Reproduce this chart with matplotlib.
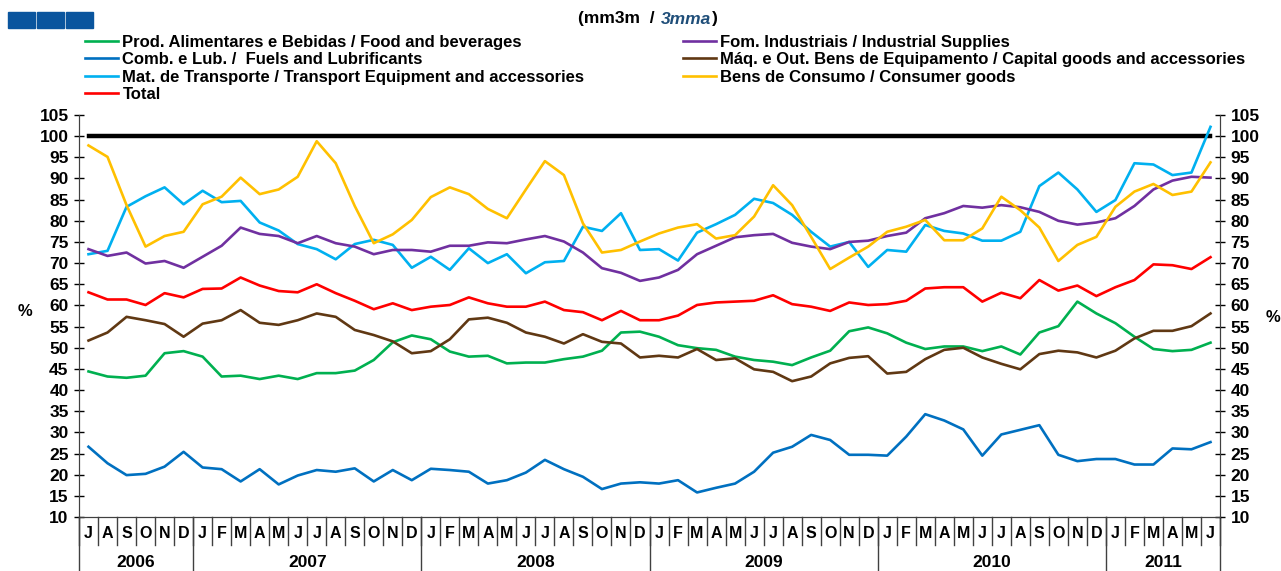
import numpy as np
import matplotlib
matplotlib.use("Agg")
import matplotlib.pyplot as plt
from matplotlib.patches import Rectangle

plt.rcParams['font.family'] = ['Liberation Sans', 'DejaVu Sans']

# monthly data, Jul 2006 - Jun 2011 (3 month moving average, %)
food = [44.4, 43.2, 42.9, 43.4, 48.7, 49.2,
        47.9, 43.2, 43.4, 42.6, 43.4, 42.6, 44.0, 44.0, 44.6, 47.1, 51.3, 52.9,
        52.0, 49.1, 47.9, 48.1, 46.3, 46.5, 46.5, 47.3, 47.9, 49.3, 53.6, 53.8,
        52.6, 50.6, 49.9, 49.5, 47.9, 47.1, 46.7, 45.9, 47.7, 49.3, 53.9, 54.8,
        53.4, 51.2, 49.7, 50.3, 50.3, 49.2, 50.3, 48.4, 53.6, 55.1, 60.9, 58.1,
        55.8, 52.6, 49.7, 49.2, 49.5, 51.2]
fuels = [26.6, 22.7, 19.9, 20.2, 21.9, 25.4,
         21.7, 21.3, 18.4, 21.3, 17.7, 19.8, 21.1, 20.7, 21.5, 18.4, 21.1, 18.7,
         21.4, 21.1, 20.7, 17.9, 18.7, 20.5, 23.5, 21.3, 19.5, 16.6, 17.9, 18.2,
         17.9, 18.7, 15.8, 16.9, 17.9, 20.7, 25.2, 26.6, 29.4, 28.2, 24.7, 24.7,
         24.5, 29.0, 34.3, 32.8, 30.7, 24.5, 29.5, 30.6, 31.7, 24.7, 23.2, 23.7,
         23.7, 22.4, 22.4, 26.2, 26.0, 27.7]
transport = [72.1, 72.9, 83.3, 85.8, 87.9, 83.9,
             87.1, 84.4, 84.7, 79.6, 77.7, 74.5, 73.3, 70.9, 74.5, 75.5, 74.3, 68.9,
             71.5, 68.4, 73.5, 70.0, 72.1, 67.6, 70.2, 70.5, 78.6, 77.6, 81.8, 73.1,
             73.3, 70.6, 77.2, 79.2, 81.4, 85.2, 84.2, 81.4, 77.4, 73.9, 75.0, 69.1,
             73.1, 72.7, 79.0, 77.6, 77.0, 75.3, 75.3, 77.4, 88.2, 91.4, 87.4, 82.1,
             84.9, 93.6, 93.3, 90.8, 91.4, 102.2]
total = [63.1, 61.4, 61.4, 60.1, 62.9, 61.9,
         63.9, 64.0, 66.6, 64.7, 63.4, 63.1, 65.0, 62.9, 61.1, 59.1, 60.5, 58.9,
         59.7, 60.1, 61.9, 60.5, 59.7, 59.7, 60.9, 58.9, 58.4, 56.5, 58.7, 56.5,
         56.5, 57.6, 60.1, 60.7, 60.9, 61.1, 62.4, 60.3, 59.7, 58.7, 60.7, 60.1,
         60.3, 61.1, 64.0, 64.3, 64.3, 60.9, 63.0, 61.7, 66.0, 63.5, 64.7, 62.2,
         64.3, 66.0, 69.7, 69.5, 68.6, 71.4]
industrial = [73.3, 71.7, 72.5, 69.9, 70.5, 68.9,
              71.5, 74.1, 78.4, 76.9, 76.4, 74.7, 76.4, 74.7, 73.9, 72.1, 73.1, 73.1,
              72.7, 74.1, 74.1, 74.9, 74.7, 75.6, 76.4, 75.1, 72.5, 68.8, 67.7, 65.8,
              66.6, 68.4, 72.1, 74.1, 76.1, 76.6, 76.9, 74.8, 73.9, 73.3, 75.0, 75.3,
              76.4, 77.2, 80.6, 81.8, 83.5, 83.1, 83.7, 83.2, 82.1, 80.0, 79.1, 79.6,
              80.6, 83.5, 87.4, 89.5, 90.4, 90.2]
capital = [51.7, 53.6, 57.3, 56.5, 55.6, 52.6,
           55.7, 56.5, 58.9, 55.9, 55.4, 56.5, 58.1, 57.3, 54.2, 53.0, 51.5, 48.7,
           49.2, 52.0, 56.7, 57.1, 55.9, 53.6, 52.6, 51.0, 53.2, 51.4, 51.0, 47.7,
           48.1, 47.7, 49.7, 47.1, 47.5, 44.9, 44.3, 42.1, 43.2, 46.3, 47.6, 48.0,
           43.9, 44.3, 47.3, 49.5, 50.0, 47.7, 46.2, 44.9, 48.5, 49.3, 48.9, 47.7,
           49.3, 52.2, 54.0, 54.0, 55.1, 58.1]
consumer = [97.8, 95.1, 83.7, 73.9, 76.4, 77.4,
            83.9, 85.7, 90.2, 86.3, 87.4, 90.4, 98.8, 93.6, 83.5, 74.7, 76.8, 80.2,
            85.6, 87.9, 86.3, 82.8, 80.6, 87.4, 94.1, 90.8, 79.4, 72.5, 73.1, 75.1,
            77.0, 78.4, 79.2, 75.8, 76.6, 81.0, 88.4, 83.7, 76.2, 68.6, 71.3, 73.9,
            77.4, 78.6, 80.2, 75.4, 75.4, 78.2, 85.7, 82.5, 78.4, 70.5, 74.3, 76.2,
            83.3, 86.9, 88.7, 86.1, 86.9, 93.8]

month_labels = list("JASOND") + list("JFMAMJJASOND") * 4 + list("JFMAMJ")
years = ["2006", "2007", "2008", "2009", "2010", "2011"]
year_months = [6, 12, 12, 12, 12, 6]

left_series = [
    (food, "Prod. Alimentares e Bebidas / Food and beverages", "#00b050"),
    (fuels, "Comb. e Lub. /  Fuels and Lubrificants", "#0070c0"),
    (transport, "Mat. de Transporte / Transport Equipment and accessories", "#00b0f0"),
    (total, "Total", "#ff0000"),
]
right_series = [
    (industrial, "Fom. Industriais / Industrial Supplies", "#7030a0"),
    (capital, "Máq. e Out. Bens de Equipamento / Capital goods and accessories", "#603813"),
    (consumer, "Bens de Consumo / Consumer goods", "#ffc000"),
]

W, H = 1281, 571
fig = plt.figure(figsize=(W / 100, H / 100), dpi=100)
ax = fig.add_axes([79 / W, 1 - 517 / H, (1220 - 79) / W, (517 - 115) / H])

x = np.arange(len(total))
ax.plot(x, np.full(len(x), 100.0), color="black", lw=3.2, zorder=2)

handles_l, handles_r = [], []
for vals, lab, col in left_series:
    ln, = ax.plot(x, vals, color=col, lw=1.9, label=lab, zorder=3)
    handles_l.append(ln)
for vals, lab, col in right_series:
    ln, = ax.plot(x, vals, color=col, lw=1.9, label=lab, zorder=3)
    handles_r.append(ln)

ax.set_xlim(-0.5, len(x) - 0.5)
ax.set_ylim(10, 105)
yt = np.arange(10, 106, 5)
ax.set_yticks(yt)
ax.set_xticks([])
ax.spines["top"].set_visible(False)
ax.tick_params(axis="y", direction="inout", length=7, width=1, labelsize=12.5, pad=4)
for t in ax.get_yticklabels():
    t.set_fontweight("bold")

ax2 = ax.twinx()
ax2.set_ylim(10, 105)
ax2.set_yticks(yt)
ax2.spines["top"].set_visible(False)
ax2.tick_params(axis="y", direction="inout", length=7, width=1, labelsize=12.5, pad=4)
for t in ax2.get_yticklabels():
    t.set_fontweight("bold")

for sp in list(ax.spines.values()) + list(ax2.spines.values()):
    sp.set_color("#404040")

# category axis: months and years
tr = ax.get_xaxis_transform()
for k in range(len(x) + 1):
    ax.plot([k - 0.5, k - 0.5], [0, -0.07], transform=tr, color="#404040", lw=1, clip_on=False)
for k, m in enumerate(month_labels):
    ax.text(k, -0.042, m, transform=tr, ha="center", va="center", fontsize=11.5, fontweight="bold")
start = 0
for yr, n in zip(years, year_months):
    ax.plot([start - 0.5, start - 0.5], [0, -0.14], transform=tr, color="#404040", lw=1, clip_on=False)
    ax.text(start + (n - 1) / 2, -0.114, yr, transform=tr, ha="center", va="center",
            fontsize=12.5, fontweight="bold")
    start += n
ax.plot([start - 0.5, start - 0.5], [0, -0.14], transform=tr, color="#404040", lw=1, clip_on=False)

fig.text(25 / W, 1 - 311 / H, "%", ha="center", va="center", fontsize=12, fontweight="bold")
fig.text(1273 / W, 1 - 318 / H, "%", ha="center", va="center", fontsize=12, fontweight="bold")

# header
for x0 in [8, 37, 66]:
    fig.patches.append(Rectangle((x0 / W, 1 - 28 / H), 27 / W, 16 / H,
                                 transform=fig.transFigure, color="#0a559e"))

renderer = fig.canvas.get_renderer()
xpos = 578
for piece, kw in [("(mm3m  / ", {}),
                  ("3mma", dict(style="italic", color="#1f4e79")),
                  (")", {})]:
    t = fig.text(xpos / W, 1 - 19 / H, piece, ha="left", va="center", fontsize=12.5,
                 fontweight="bold", **kw)
    xpos += t.get_window_extent(renderer).width + 1

leg_kw = dict(loc="upper left", frameon=False, fontsize=12, handlelength=2.0,
              handletextpad=0.25, labelspacing=0.14, borderpad=0, borderaxespad=0)
leg1 = fig.legend(handles=handles_l, bbox_to_anchor=(85 / W, 1 - 35 / H), **leg_kw)
leg2 = fig.legend(handles=handles_r, bbox_to_anchor=(683 / W, 1 - 35 / H), **leg_kw)
for lg in (leg1, leg2):
    for t in lg.get_texts():
        t.set_fontweight("bold")

fig.savefig("out.png", dpi=100)
